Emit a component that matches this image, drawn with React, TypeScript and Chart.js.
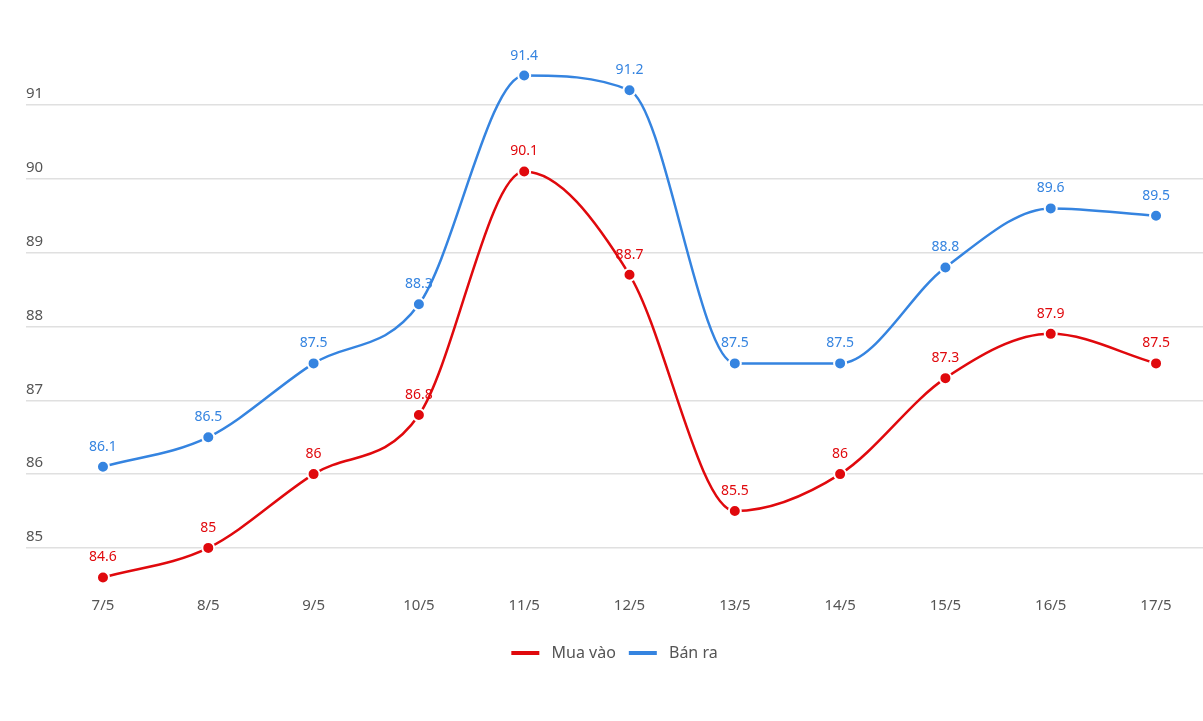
import React, { useEffect, useRef } from "react";
import { Chart, registerables } from "chart.js";

Chart.register(...registerables);

const dates = ["7/5", "8/5", "9/5", "10/5", "11/5", "12/5", "13/5", "14/5", "15/5", "16/5", "17/5"];
const muaVao = [84.6, 85, 86, 86.8, 90.1, 88.7, 85.5, 86, 87.3, 87.9, 87.5];
const banRa = [86.1, 86.5, 87.5, 88.3, 91.4, 91.2, 87.5, 87.5, 88.8, 89.6, 89.5];
const yTicks = [85, 86, 87, 88, 89, 90, 91];

const RED = "#e0090d";
const BLUE = "#3584e0";
const FONT = "'Noto Sans', 'Open Sans', sans-serif";

const labelPlugin = {
  id: "pointLabels",
  afterDatasetsDraw(chart: any) {
    const ctx = chart.ctx;
    ctx.save();
    ctx.font = `14px ${FONT}`;
    ctx.textAlign = "center";
    ctx.textBaseline = "middle";
    chart.data.datasets.forEach((ds: any, i: number) => {
      const meta = chart.getDatasetMeta(i);
      ctx.fillStyle = ds.borderColor;
      meta.data.forEach((pt: any, j: number) => {
        const v = ds.data[j].y;
        ctx.fillText(String(v), pt.x, pt.y - 20);
      });
    });
    ctx.restore();
  },
};

export default function App() {
  const ref = useRef<HTMLCanvasElement>(null);
  useEffect(() => {
    if (!ref.current) return;
    const mk = (arr: number[]) => arr.map((y, i) => ({ x: i, y }));
    const chart = new Chart(ref.current, {
      type: "line",
      data: {
        datasets: [
          {
            label: "Mua vào",
            data: mk(muaVao),
            borderColor: RED,
            backgroundColor: RED,
            pointBackgroundColor: RED,
            pointBorderColor: "#ffffff",
            borderWidth: 2.5,
            pointRadius: 6,
            pointBorderWidth: 2,
            cubicInterpolationMode: "monotone",
          },
          {
            label: "Bán ra",
            data: mk(banRa),
            borderColor: BLUE,
            backgroundColor: BLUE,
            pointBackgroundColor: BLUE,
            pointBorderColor: "#ffffff",
            borderWidth: 2.5,
            pointRadius: 6,
            pointBorderWidth: 2,
            cubicInterpolationMode: "monotone",
          },
        ],
      },
      options: {
        animation: false,
        responsive: false,
        devicePixelRatio: 1,
        layout: { autoPadding: false, padding: { top: 46, left: 26, right: 0, bottom: 50 } },
        events: [],
        plugins: {
          tooltip: { enabled: false },
          legend: {
            position: "bottom",
            labels: {
              boxWidth: 28,
              boxHeight: 4,
              padding: 13,
              color: "#555555",
              font: { family: FONT, size: 16 },
              generateLabels(chart: any) {
                return chart.data.datasets.map((ds: any, i: number) => ({
                  text: " " + ds.label,
                  fillStyle: ds.borderColor,
                  strokeStyle: ds.borderColor,
                  lineWidth: 0,
                  hidden: false,
                  datasetIndex: i,
                  fontColor: "#555555",
                }));
              },
            },
          },
        },
        scales: {
          x: {
            type: "linear",
            min: -0.731,
            max: 10.446,
            grid: { display: false, drawTicks: false },
            border: { display: false },
            afterBuildTicks(scale: any) {
              scale.ticks = dates.map((_, i) => ({ value: i }));
            },
            afterFit(scale: any) {
              scale.paddingLeft = 0;
              scale.paddingRight = 0;
              scale.height += 9.5;
            },
            ticks: {
              padding: 8,
              color: "#555555",
              font: { family: FONT, size: 15 },
              autoSkip: false,
              maxRotation: 0,
              callback: (v: any) => dates[v] ?? "",
            },
          },
          y: {
            min: 84.45,
            max: 91.8,
            grid: { color: "#e0e0e0", lineWidth: 1.5, drawTicks: false },
            border: { display: false },
            afterBuildTicks(scale: any) {
              scale.ticks = yTicks.map((v) => ({ value: v }));
            },
            ticks: {
              mirror: true,
              padding: 0,
              labelOffset: -11,
              color: "#555555",
              font: { family: FONT, size: 15 },
            },
          },
        },
      },
      plugins: [labelPlugin],
    });
    return () => chart.destroy();
  }, []);
  return (
    <div style={{ position: "absolute", left: 0, top: 0, width: 1203, height: 721, background: "#fff" }}>
      <canvas ref={ref} width={1203} height={721} />
    </div>
  );
}
